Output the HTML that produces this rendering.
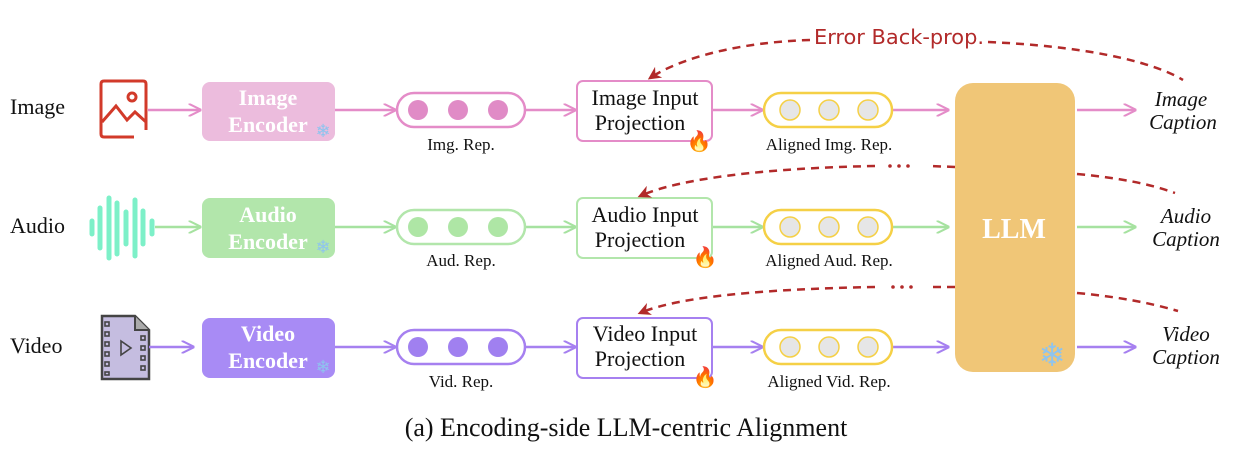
<!DOCTYPE html>
<html><head><meta charset="utf-8"><style>
body{margin:0;background:#fff}
svg{display:block}
.s{font-family:"Liberation Serif",serif}
</style></head><body>
<svg width="1252" height="454" viewBox="0 0 1252 454" xmlns="http://www.w3.org/2000/svg">
<defs>
<marker id="ap" viewBox="0 0 10 10" refX="9" refY="5" markerWidth="13" markerHeight="13" orient="auto" markerUnits="userSpaceOnUse"><path d="M0,0 L10,5 L0,10" fill="none" stroke="#e48cc8" stroke-width="1.6"/></marker>
<marker id="ag" viewBox="0 0 10 10" refX="9" refY="5" markerWidth="13" markerHeight="13" orient="auto" markerUnits="userSpaceOnUse"><path d="M0,0 L10,5 L0,10" fill="none" stroke="#a6e2a0" stroke-width="1.6"/></marker>
<marker id="av" viewBox="0 0 10 10" refX="9" refY="5" markerWidth="13" markerHeight="13" orient="auto" markerUnits="userSpaceOnUse"><path d="M0,0 L10,5 L0,10" fill="none" stroke="#a680f0" stroke-width="1.6"/></marker>
<marker id="ar" viewBox="0 0 10 10" refX="8" refY="5" markerWidth="13" markerHeight="13" orient="auto" markerUnits="userSpaceOnUse"><path d="M0,0 L10,5 L0,10 L3,5z" fill="#b22a2a"/></marker>
</defs>

<g class="s" font-size="22" fill="#111">
<text x="10" y="114">Image</text>
<text x="10" y="233">Audio</text>
<text x="10" y="353">Video</text>
</g>

<g fill="none" stroke="#d23a2a" stroke-width="3">
<path d="M134,137 H104 Q101,137 101,134 V84 Q101,81 104,81 H143 Q146,81 146,84 V130"/>
<path d="M102,122 L116,106 L127,120 L135,112 L146,122"/>
<circle cx="132" cy="97" r="4"/>
</g>
<g stroke="#7df0c8" stroke-width="5" stroke-linecap="round">
<line x1="92" y1="221" x2="92" y2="234"/><line x1="100" y1="208" x2="100" y2="248"/>
<line x1="109" y1="198" x2="109" y2="258"/><line x1="117" y1="203" x2="117" y2="254"/>
<line x1="126" y1="212" x2="126" y2="244"/><line x1="135" y1="200" x2="135" y2="256"/>
<line x1="143" y1="211" x2="143" y2="244"/><line x1="152" y1="221" x2="152" y2="234"/>
</g>
<g>
<path d="M102,316 H135 L149,330 V379 H102 Z" fill="#c5bde0" stroke="#444" stroke-width="2.5"/>
<path d="M135,316 V330 H149" fill="#aaa" stroke="#444" stroke-width="2"/>
<g fill="none" stroke="#444" stroke-width="1.6">
<rect x="105" y="322" width="4" height="4"/><rect x="105" y="332" width="4" height="4"/><rect x="105" y="342" width="4" height="4"/><rect x="105" y="352" width="4" height="4"/><rect x="105" y="362" width="4" height="4"/><rect x="105" y="372" width="4" height="3"/>
<rect x="141" y="336" width="4" height="4"/><rect x="141" y="346" width="4" height="4"/><rect x="141" y="356" width="4" height="4"/><rect x="141" y="366" width="4" height="4"/>
<path d="M121,341 L131,348 L121,355 Z"/>
</g>
</g>

<g stroke-width="2.5" fill="none">
<g stroke="#e48cc8" marker-end="url(#ap)">
<line x1="148" y1="110" x2="200" y2="110"/><line x1="335" y1="110" x2="395" y2="110"/><line x1="525" y1="110" x2="575" y2="110"/><line x1="712" y1="110" x2="762" y2="110"/><line x1="892" y1="110" x2="948" y2="110"/><line x1="1077" y1="110" x2="1135" y2="110"/>
</g>
<g stroke="#a6e2a0" marker-end="url(#ag)">
<line x1="155" y1="227" x2="200" y2="227"/><line x1="335" y1="227" x2="395" y2="227"/><line x1="525" y1="227" x2="575" y2="227"/><line x1="712" y1="227" x2="762" y2="227"/><line x1="892" y1="227" x2="948" y2="227"/><line x1="1077" y1="227" x2="1135" y2="227"/>
</g>
<g stroke="#a680f0" marker-end="url(#av)">
<line x1="149" y1="347" x2="193" y2="347"/><line x1="335" y1="347" x2="395" y2="347"/><line x1="525" y1="347" x2="575" y2="347"/><line x1="712" y1="347" x2="762" y2="347"/><line x1="892" y1="347" x2="948" y2="347"/><line x1="1077" y1="347" x2="1135" y2="347"/>
</g>
</g>

<rect x="202" y="82" width="133" height="59" rx="8" fill="#ecbcdd"/>
<rect x="202" y="198" width="133" height="60" rx="8" fill="#b2e6ab"/>
<rect x="202" y="318" width="133" height="60" rx="8" fill="#a88bf5"/>
<g class="s" font-size="22" font-weight="bold" fill="#fff" text-anchor="middle">
<text x="268" y="105">Image</text><text x="268" y="132">Encoder</text>
<text x="268" y="222">Audio</text><text x="268" y="249">Encoder</text>
<text x="268" y="341">Video</text><text x="268" y="368">Encoder</text>
</g>
<g font-size="18" fill="#8ec4ee" text-anchor="middle" font-family="DejaVu Sans,sans-serif">
<text x="323" y="137">❄</text><text x="323" y="253">❄</text><text x="323" y="373">❄</text>
</g>

<g stroke-width="2.5">
<rect x="397" y="93" width="128" height="34" rx="17" fill="#fff" stroke="#e48cc8"/>
<rect x="397" y="210" width="128" height="34" rx="17" fill="#fff" stroke="#b2e6ab"/>
<rect x="397" y="330" width="128" height="34" rx="17" fill="#fff" stroke="#a680f0"/>
</g>
<g fill="#e08bc6"><circle cx="418" cy="110" r="10"/><circle cx="458" cy="110" r="10"/><circle cx="498" cy="110" r="10"/></g>
<g fill="#aee6a5"><circle cx="418" cy="227" r="10"/><circle cx="458" cy="227" r="10"/><circle cx="498" cy="227" r="10"/></g>
<g fill="#a080f0"><circle cx="418" cy="347" r="10"/><circle cx="458" cy="347" r="10"/><circle cx="498" cy="347" r="10"/></g>
<g class="s" font-size="17" fill="#111" text-anchor="middle">
<text x="461" y="150">Img. Rep.</text><text x="461" y="266">Aud. Rep.</text><text x="461" y="387">Vid. Rep.</text>
<text x="829" y="150">Aligned Img. Rep.</text><text x="829" y="266">Aligned Aud. Rep.</text><text x="829" y="387">Aligned Vid. Rep.</text>
</g>

<g stroke-width="2">
<rect x="577" y="81" width="135" height="60" rx="6" fill="#fff" stroke="#e48cc8"/>
<rect x="577" y="198" width="135" height="60" rx="6" fill="#fff" stroke="#b2e6ab"/>
<rect x="577" y="318" width="135" height="60" rx="6" fill="#fff" stroke="#a680f0"/>
</g>
<g class="s" font-size="22" fill="#111" text-anchor="middle">
<text x="645" y="105">Image Input</text><text x="640" y="130">Projection</text>
<text x="645" y="222">Audio Input</text><text x="640" y="247">Projection</text>
<text x="645" y="341">Video Input</text><text x="640" y="366">Projection</text>
</g>
<g font-size="20" text-anchor="middle" font-family="DejaVu Sans,sans-serif" fill="#f07020">
<text x="699" y="148">🔥</text><text x="705" y="264">🔥</text><text x="705" y="384">🔥</text>
</g>

<g stroke="#f5d046" stroke-width="2.5">
<rect x="764" y="93" width="128" height="34" rx="17" fill="#fff"/>
<rect x="764" y="210" width="128" height="34" rx="17" fill="#fff"/>
<rect x="764" y="330" width="128" height="34" rx="17" fill="#fff"/>
<g fill="#e6e6e6" stroke-width="1.5">
<circle cx="790" cy="110" r="10"/><circle cx="829" cy="110" r="10"/><circle cx="868" cy="110" r="10"/>
<circle cx="790" cy="227" r="10"/><circle cx="829" cy="227" r="10"/><circle cx="868" cy="227" r="10"/>
<circle cx="790" cy="347" r="10"/><circle cx="829" cy="347" r="10"/><circle cx="868" cy="347" r="10"/>
</g>
</g>

<rect x="955" y="83" width="120" height="289" rx="18" fill="#f0c677"/>
<text x="1014" y="238" class="s" font-size="28" font-weight="bold" fill="#fff" text-anchor="middle">LLM</text>
<text x="1052" y="366" font-size="32" fill="#8ec4ee" text-anchor="middle" font-family="DejaVu Sans,sans-serif">❄</text>

<g class="s" font-size="21" font-style="italic" fill="#111" text-anchor="middle">
<text x="1181" y="106">Image</text><text x="1183" y="129">Caption</text>
<text x="1186" y="223">Audio</text><text x="1186" y="246">Caption</text>
<text x="1186" y="341">Video</text><text x="1186" y="364">Caption</text>
</g>

<g fill="none" stroke="#b22a2a" stroke-width="2.5" stroke-dasharray="8,6">
<path d="M810,40 C740,42 680,58 650,78" marker-end="url(#ar)"/>
<path d="M988,42 C1080,46 1150,60 1183,80"/>
<path d="M955,167 L930,166"/>
<path d="M875,166 C770,168 680,178 640,196" marker-end="url(#ar)"/>
<path d="M1077,174 C1120,178 1150,184 1175,193"/>
<path d="M955,287 L930,287"/>
<path d="M875,287 C770,289 680,296 640,313" marker-end="url(#ar)"/>
<path d="M1077,293 C1120,297 1150,303 1178,311"/>
</g>
<g fill="#b22a2a"><circle cx="890" cy="166" r="1.8"/><circle cx="899" cy="166" r="1.8"/><circle cx="908" cy="166" r="1.8"/>
<circle cx="893" cy="287" r="1.8"/><circle cx="902" cy="287" r="1.8"/><circle cx="911" cy="287" r="1.8"/></g>
<text x="814" y="44" font-family="DejaVu Sans Condensed,DejaVu Sans,sans-serif" font-size="20" fill="#b22a2a" textLength="170" lengthAdjust="spacingAndGlyphs">Error Back-prop.</text>

<text x="626" y="436" class="s" font-size="26" fill="#111" text-anchor="middle">(a) Encoding-side LLM-centric Alignment</text>
</svg>
</body></html>
